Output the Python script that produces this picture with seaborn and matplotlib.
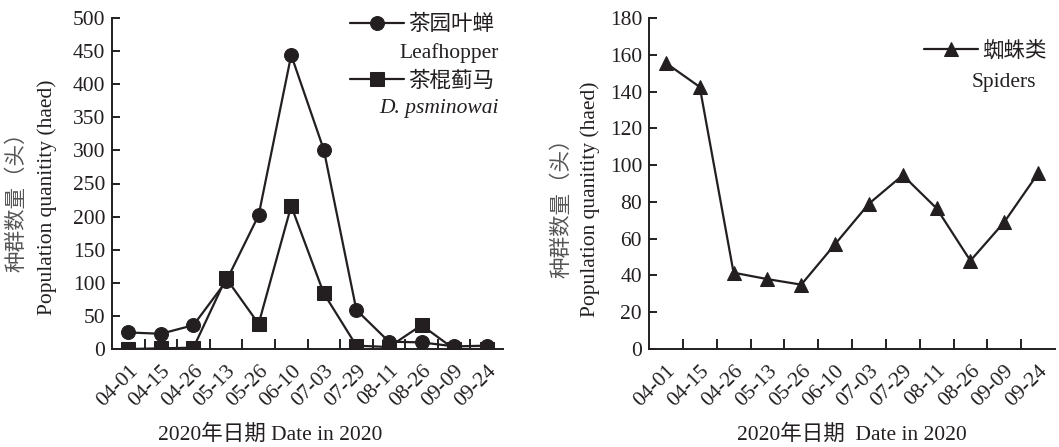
import numpy as np
import pandas as pd
import matplotlib
matplotlib.use("Agg")
import matplotlib.pyplot as plt
import seaborn as sns
from matplotlib.ticker import FixedLocator

dates = ["04-01", "04-15", "04-26", "05-13", "05-26", "06-10",
         "07-03", "07-29", "08-11", "08-26", "09-09", "09-24"]
leafhopper = [25, 23, 36, 102, 202, 444, 301, 59, 11, 10, 4, 5]
thrips = [0, 1, 2, 107, 38, 216, 84, 5, 3, 36, 0, 0]
spiders = [155.5, 142.5, 41.5, 38, 35, 57, 79, 94.5, 76.5, 48, 69, 95.5]

sns.set_theme(style="white")
INK = "#231f20"
plt.rcParams["font.family"] = ["Liberation Serif", "Noto Sans CJK SC"]
plt.rcParams["axes.edgecolor"] = INK
plt.rcParams["text.color"] = INK
plt.rcParams["xtick.color"] = INK
plt.rcParams["ytick.color"] = INK

FS = 15.5
fig = plt.figure(figsize=(10.59, 4.47), dpi=100)
W, H = 1059, 447
ax1 = fig.add_axes([112 / W, (H - 349) / H, (503 - 112) / W, (349 - 18) / H])
ax2 = fig.add_axes([649 / W, (H - 349) / H, (1055 - 649) / W, (349 - 18) / H])

x = np.arange(len(dates))
df = pd.DataFrame({"x": x, "leaf": leafhopper, "thrips": thrips, "spiders": spiders})

kw = dict(color=INK, linewidth=1.6, markersize=10, markeredgecolor=INK, markerfacecolor=INK)
sns.lineplot(data=df, x="x", y="leaf", ax=ax1, marker="o", label="茶园叶蝉", **kw)
sns.lineplot(data=df, x="x", y="thrips", ax=ax1, marker="s", label="茶棍蓟马", **kw)
sns.lineplot(data=df, x="x", y="spiders", ax=ax2, marker="^", label="蜘蛛类", **kw)

for ax, ymax, step in [(ax1, 500, 50), (ax2, 180, 20)]:
    ax.set_xlim(-0.5, 11.5)
    ax.set_ylim(0, ymax)
    ax.set_yticks(np.arange(0, ymax + 1, step))
    ax.set_xticks(x)
    ax.set_xticklabels(dates, rotation=45, ha="right", va="top", rotation_mode="anchor")
    ax.xaxis.set_minor_locator(FixedLocator(np.arange(0.5, 11, 1)))
    ax.tick_params(axis="x", which="major", length=0, pad=9, labelsize=FS)
    ax.tick_params(axis="x", which="minor", direction="in", length=7, width=1.4, bottom=True)
    ax.tick_params(axis="y", direction="in", length=6, width=1.4, left=True, labelsize=FS, pad=5)
    for s in ["top", "right"]:
        ax.spines[s].set_visible(False)
    for s in ["left", "bottom"]:
        ax.spines[s].set_linewidth(1.4)
    ax.set_xlabel("")
    ax.set_ylabel("")
    ax.grid(False)

leg1 = ax1.legend(loc="upper right", bbox_to_anchor=(1.0, 1.035), frameon=False,
                  fontsize=FS, handlelength=2.5, handletextpad=0.2, labelspacing=1.65,
                  borderaxespad=0)
ax1.text(0.99, 0.895, "Leafhopper", transform=ax1.transAxes, ha="right", va="center", fontsize=FS)
ax1.text(0.99, 0.728, "D. psminowai", transform=ax1.transAxes, ha="right", va="center",
         fontsize=FS, style="italic")

leg2 = ax2.legend(loc="upper right", bbox_to_anchor=(1.0, 0.955), frameon=False,
                  fontsize=FS, handlelength=2.5, handletextpad=0.2, borderaxespad=0)
ax2.text(0.875, 0.805, "Spiders", transform=ax2.transAxes, ha="center", va="center", fontsize=FS)

# axis titles
fig.text(17 / W, 1 - 197 / H, "种群数量（头）", rotation=90, ha="center", va="center",
         fontsize=FS, color="#555555")
fig.text(47 / W, 1 - 197 / H, "Population quanitity (haed)", rotation=90, ha="center",
         va="center", fontsize=FS)
fig.text(562 / W, 1 - 203 / H, "种群数量（头）", rotation=90, ha="center", va="center",
         fontsize=FS, color="#555555")
fig.text(590 / W, 1 - 199 / H, "Population quanitity (haed)", rotation=90, ha="center",
         va="center", fontsize=FS)
fig.text(270 / W, 1 - 435 / H, "2020年日期 Date in 2020", ha="center", va="center", fontsize=FS)
fig.text(852 / W, 1 - 435 / H, "2020年日期  Date in 2020", ha="center", va="center", fontsize=FS)

fig.savefig("out.png", dpi=100, facecolor="white")
